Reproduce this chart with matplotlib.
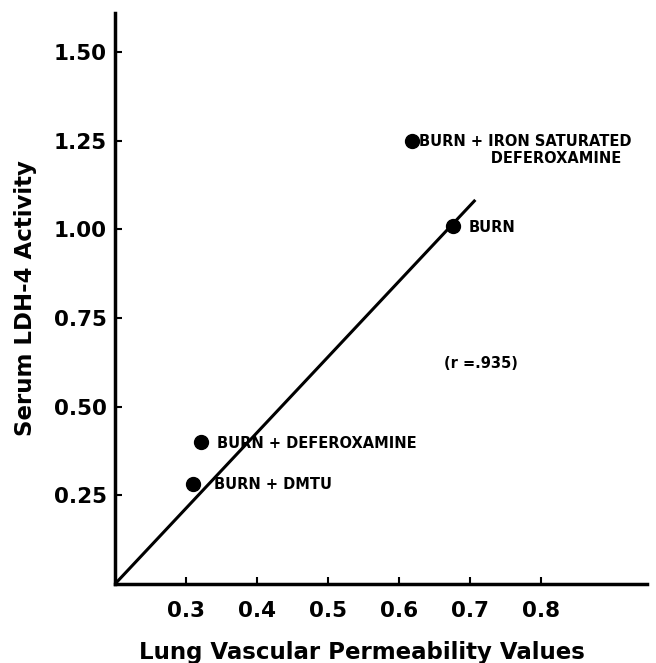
import matplotlib
matplotlib.use('Agg')
import matplotlib.pyplot as plt

# data
groups = ['BURN + DMTU', 'BURN + DEFEROXAMINE', 'BURN',
          'BURN + IRON SATURATED\n              DEFEROXAMINE']
permeability = [0.31, 0.321, 0.676, 0.619]
ldh4 = [0.282, 0.40, 1.009, 1.249]

# regression line end points
line_x = [0.2, 0.708]
line_y = [0.0, 1.083]

x_ticks = [0.3, 0.4, 0.5, 0.6, 0.7, 0.8]
x_ticklabels = ['0.3', '0.4', '0.5', '0.6', '0.7', '0.8']
y_ticks = [0.25, 0.50, 0.75, 1.00, 1.25, 1.50]
y_ticklabels = ['0.25', '0.50', '0.75', '1.00', '1.25', '1.50']

plt.rcParams['font.family'] = ['DejaVu Sans']
plt.rcParams['font.weight'] = 'bold'

fig = plt.figure(figsize=(6.56, 6.63), dpi=100)
ax = fig.add_axes([115 / 656, 1 - 584 / 663, (647 - 115) / 656, (584 - 13) / 663])

ax.plot(line_x, line_y, color='black', linewidth=2.2, solid_capstyle='butt')
ax.plot(permeability, ldh4, 'o', color='black', markersize=10)

# labels next to each point
offsets = [(21, -1), (16, -1), (16, -1), (7, -9)]
for name, px, py, (dx, dy) in zip(groups, permeability, ldh4, offsets):
    ax.annotate(name, (px, py), xytext=(dx, dy), textcoords='offset pixels',
                fontsize=10.5, fontweight='bold', va='center', ha='left',
                linespacing=1.15)

ax.text(0.716, 0.623, '(r =.935)', fontsize=10.5, fontweight='bold',
        ha='center', va='center')

ax.set_xlim(0.2, 0.95)
ax.set_ylim(0, 1.61)
ax.set_xticks(x_ticks)
ax.set_xticklabels(x_ticklabels)
ax.set_yticks(y_ticks)
ax.set_yticklabels(y_ticklabels)

for side in ['top', 'right']:
    ax.spines[side].set_visible(False)
for side in ['left', 'bottom']:
    ax.spines[side].set_linewidth(2.5)

ax.tick_params(direction='in', length=5, width=1.5, labelsize=15.5)
ax.tick_params(axis='y', pad=6)
ax.tick_params(axis='x', pad=12)
for lab in ax.get_xticklabels() + ax.get_yticklabels():
    lab.set_fontweight('bold')

ax.set_xlabel('Lung Vascular Permeability Values', fontsize=16.5,
              fontweight='bold')
ax.xaxis.set_label_coords(0.464, -0.10)
ax.set_ylabel('Serum LDH-4 Activity', fontsize=16.5, fontweight='bold',
              labelpad=12)

fig.savefig('out.png', dpi=100)
